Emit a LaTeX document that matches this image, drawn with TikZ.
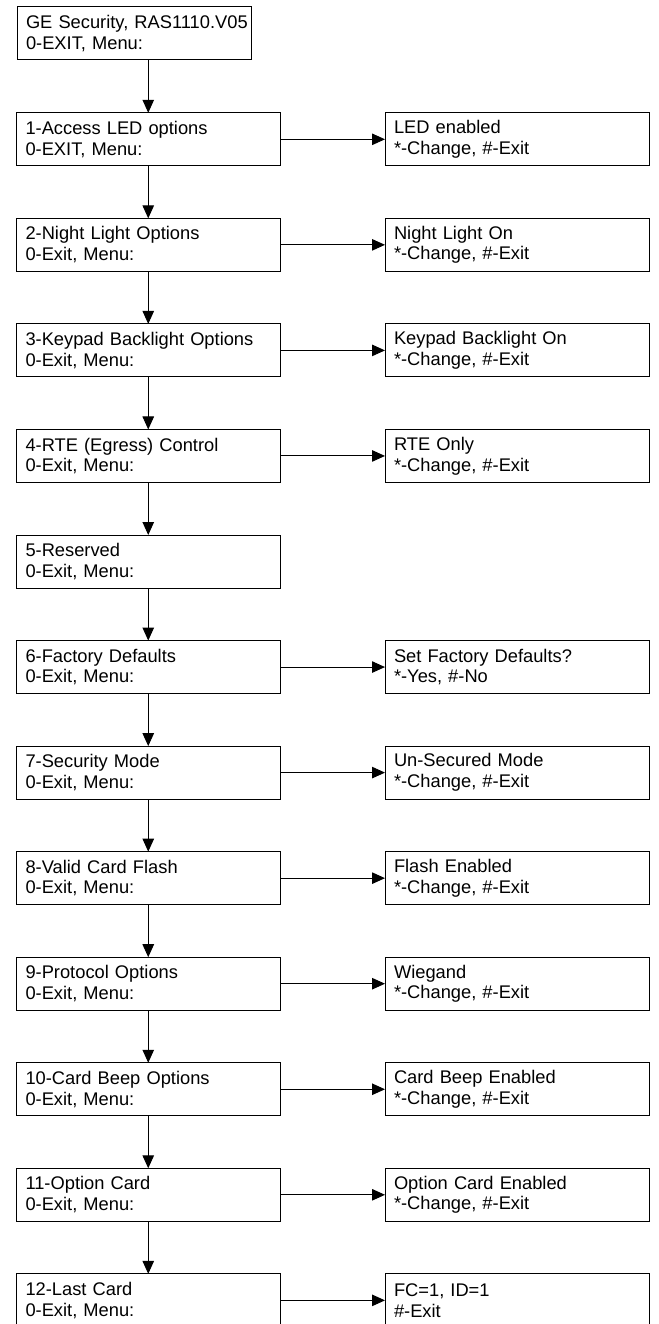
\documentclass[tikz,border=0pt]{standalone}
\usepackage{fontspec}
\setmainfont{Liberation Sans}
\usetikzlibrary{positioning,arrows.meta}
\begin{document}
\begin{tikzpicture}[every node/.style={rectangle,draw,line width=1pt,outer sep=0pt,inner xsep=9pt,
    minimum height=53pt,align=left,font=\fontsize{18.3}{20.7}\selectfont},
  menu/.style={minimum width=263.5pt,text width=245.5pt},
  setting/.style={minimum width=264pt,text width=246pt},
  flow/.style={line width=1pt,-{Triangle[length=13pt,width=11.5pt]}},
  node distance=52.55pt and 105pt]
  \useasboundingbox (0,0) rectangle (658pt,-1324pt);
  \clip (0,0) rectangle (658pt,-1324pt);
  % Main menu column
  \node (m0) [minimum width=234pt,text width=216pt] at (134pt,-33.5pt) {\mbox{GE Security, RAS1110.V05}\\0-EXIT, Menu:};
  \node (m1) [menu] at (148.25pt,-139.3pt) {1-Access LED options\\0-EXIT, Menu:};
  \node (m2) [menu,below=of m1] {2-Night Light Options\\0-Exit, Menu:};
  \node (m3) [menu,below=of m2] {3-Keypad Backlight Options\\0-Exit, Menu:};
  \node (m4) [menu,below=of m3] {4-RTE (Egress) Control\\0-Exit, Menu:};
  \node (m5) [menu,below=of m4] {5-Reserved\\0-Exit, Menu:};
  \node (m6) [menu,below=of m5] {6-Factory Defaults\\0-Exit, Menu:};
  \node (m7) [menu,below=of m6] {7-Security Mode\\0-Exit, Menu:};
  \node (m8) [menu,below=of m7] {8-Valid Card Flash\\0-Exit, Menu:};
  \node (m9) [menu,below=of m8] {9-Protocol Options\\0-Exit, Menu:};
  \node (m10) [menu,below=of m9] {10-Card Beep Options\\0-Exit, Menu:};
  \node (m11) [menu,below=of m10] {11-Option Card\\0-Exit, Menu:};
  \node (m12) [menu,below=of m11] {12-Last Card\\0-Exit, Menu:};
  % Settings column
  \node (s1) [setting,right=of m1] {LED enabled\\{*}-Change, \#-Exit};
  \node (s2) [setting,right=of m2] {Night Light On\\{*}-Change, \#-Exit};
  \node (s3) [setting,right=of m3] {Keypad Backlight On\\{*}-Change, \#-Exit};
  \node (s4) [setting,right=of m4] {RTE Only\\{*}-Change, \#-Exit};
  \node (s6) [setting,right=of m6] {Set Factory Defaults?\\{*}-Yes, \#-No};
  \node (s7) [setting,right=of m7] {Un-Secured Mode\\{*}-Change, \#-Exit};
  \node (s8) [setting,right=of m8] {Flash Enabled\\{*}-Change, \#-Exit};
  \node (s9) [setting,right=of m9] {Wiegand\\{*}-Change, \#-Exit};
  \node (s10) [setting,right=of m10] {Card Beep Enabled\\{*}-Change, \#-Exit};
  \node (s11) [setting,right=of m11] {Option Card Enabled\\{*}-Change, \#-Exit};
  \node (s12) [setting,right=of m12] {FC=1, ID=1\\\#-Exit};
  % Down the menu
  \draw[flow] (m1.north |- m0.south) -- (m1.north);
  \draw[flow] (m1) -- (m2);
  \draw[flow] (m2) -- (m3);
  \draw[flow] (m3) -- (m4);
  \draw[flow] (m4) -- (m5);
  \draw[flow] (m5) -- (m6);
  \draw[flow] (m6) -- (m7);
  \draw[flow] (m7) -- (m8);
  \draw[flow] (m8) -- (m9);
  \draw[flow] (m9) -- (m10);
  \draw[flow] (m10) -- (m11);
  \draw[flow] (m11) -- (m12);
  % Across to the settings
  \draw[flow] (m1) -- (s1);
  \draw[flow] (m2) -- (s2);
  \draw[flow] (m3) -- (s3);
  \draw[flow] (m4) -- (s4);
  \draw[flow] (m6) -- (s6);
  \draw[flow] (m7) -- (s7);
  \draw[flow] (m8) -- (s8);
  \draw[flow] (m9) -- (s9);
  \draw[flow] (m10) -- (s10);
  \draw[flow] (m11) -- (s11);
  \draw[flow] (m12) -- (s12);
\end{tikzpicture}
\end{document}
